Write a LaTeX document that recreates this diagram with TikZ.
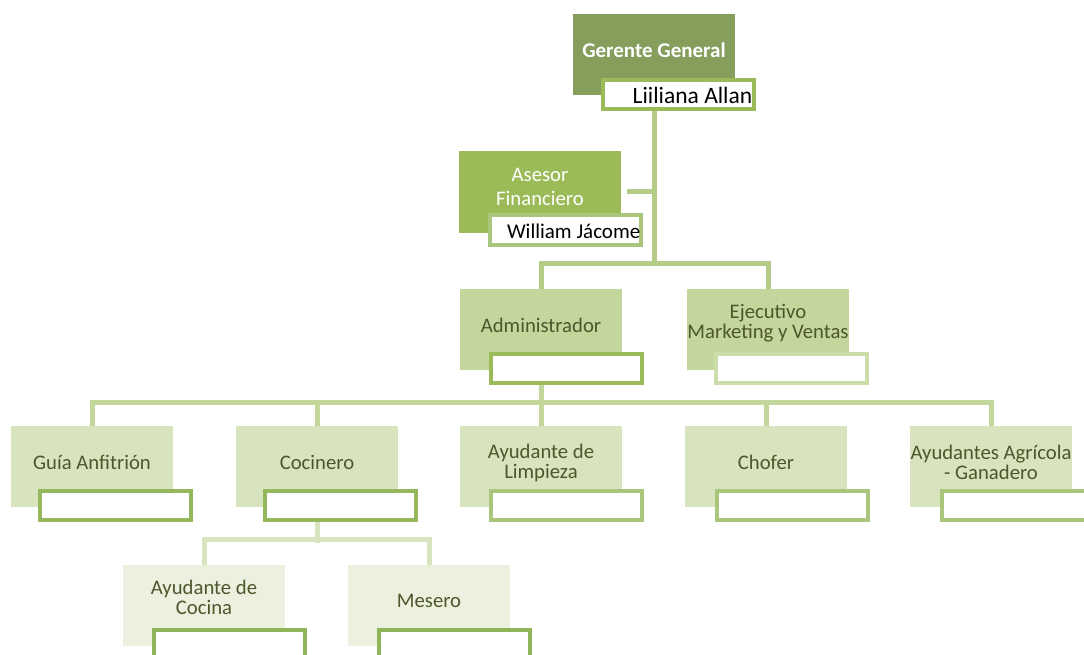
\documentclass[tikz,border=0pt]{standalone}
\usepackage{fontspec}
\setmainfont{Carlito}
\begin{document}
\begin{tikzpicture}[x=1pt,y=-1pt,
  box/.style={minimum width=162pt,minimum height=81pt,inner sep=0pt,draw=none},
  namebox/.style={draw=#1,line width=4pt,fill=white,minimum width=151pt,minimum height=29pt,inner sep=0pt},
  txt/.style={font=\fontsize{20.7}{22}\selectfont,align=center,inner sep=0pt,text=olivetxt},
  nametxt/.style={font=\fontsize{21}{22}\selectfont,inner sep=0pt,text=black,anchor=east},
  conn/.style={draw=#1,line width=5pt,line cap=butt,line join=miter}]
\definecolor{c0}{RGB}{134,158,92}
\definecolor{c1}{RGB}{155,187,89}
\definecolor{c2}{RGB}{195,214,155}
\definecolor{c3}{RGB}{215,228,189}
\definecolor{c4}{RGB}{235,241,222}
\definecolor{olivetxt}{RGB}{78,86,44}
\definecolor{lnA}{RGB}{181,204,135}
\definecolor{lnB}{RGB}{195,214,155}
\definecolor{lnC}{RGB}{215,228,189}
\definecolor{bA}{RGB}{150,184,92}
\definecolor{bB}{RGB}{170,198,124}
\definecolor{bC}{RGB}{204,221,170}
\definecolor{bD}{RGB}{144,180,88}
\useasboundingbox (0,0) rectangle (1084,655);
\clip (0,0) rectangle (1084,655);

% main boxes
\node[box,fill=c0] (gg) at (654,55) {};
\node[box,fill=c1] (as) at (540,192) {};
\node[box,fill=c2] (ad) at (541,329.5) {};
\node[box,fill=c2] (ej) at (768,329.5) {};
\node[box,fill=c3] (gu) at (92,466.5) {};
\node[box,fill=c3] (co) at (317,466.5) {};
\node[box,fill=c3] (li) at (541,466.5) {};
\node[box,fill=c3] (ch) at (766,466.5) {};
\node[box,fill=c3] (ag) at (991,466.5) {};
\node[box,fill=c4] (ac) at (204,605.5) {};
\node[box,fill=c4] (me) at (429,605.5) {};

% name boxes
\node[namebox=c1] (ggn) at (678,94.5) {};
\node[namebox=bB] (asn) at (565,230) {};
\node[namebox=c1] (adn) at (566.5,368) {};
\node[namebox=bC] (ejn) at (791,368) {};
\node[namebox=bA] (gun) at (115.5,505) {};
\node[namebox=bA] (con) at (340.5,505) {};
\node[namebox=bB] (lin) at (566,505) {};
\node[namebox=bB] (chn) at (792,505) {};
\node[namebox=bB] (agn) at (1017.5,505) {};
\node[namebox=bD] (acn) at (229,644.5) {};
\node[namebox=bD] (men) at (454,644.5) {};

% connectors
\path (ad.north) ++(0,-25) coordinate (h1);
\draw[conn=lnA] (ggn.south -| gg.center) -- (h1 -| gg.center);
\draw[conn=lnA] ([xshift=6pt]as.east) -- (as.east -| gg.center);
\draw[conn=lnA] (ad.north) -- (h1) -| (ej.north);
\draw[conn=lnB] (adn.south -| ad.center) -- ++(0,21);
\path (gu.north) ++(0,-23) coordinate (h2);
\draw[conn=lnB] (gu.north) -- (h2) -| (ag.north);
\draw[conn=lnB] (co.north) -- (co.north |- h2);
\draw[conn=lnB] (li.north) -- (li.north |- h2);
\draw[conn=lnB] (ch.north) -- (ch.north |- h2);
\draw[conn=lnC] (con.south -| co.center) -- ++(0,21);
\path (ac.north) ++(0,-25) coordinate (h3);
\draw[conn=lnC] (ac.north) -- (h3) -| (me.north);

% texts
\node[txt,text=white,font=\fontsize{21}{22}\selectfont\bfseries] at ([yshift=5pt]gg.center) {Gerente General};
\node[txt,text=white,font=\fontsize{20.7}{24}\selectfont] at ([yshift=5pt]as.center) {Asesor\\Financiero};
\node[txt] at ([yshift=4.5pt]ad.center) {Administrador};
\node[txt,font=\fontsize{20.7}{20}\selectfont] at ([yshift=6pt]ej.center) {Ejecutivo\\Marketing y Ventas};
\node[txt] at ([yshift=4.5pt]gu.center) {Guía Anfitrión};
\node[txt] at ([yshift=4.5pt]co.center) {Cocinero};
\node[txt,font=\fontsize{20.7}{20}\selectfont] at ([yshift=4pt]li.center) {Ayudante de\\Limpieza};
\node[txt] at ([yshift=4.5pt]ch.center) {Chofer};
\node[txt,font=\fontsize{20.7}{20}\selectfont] at ([yshift=4pt]ag.center) {Ayudantes Agrícola\\- Ganadero};
\node[txt,font=\fontsize{20.7}{20}\selectfont] at ([yshift=8pt]ac.center) {Ayudante de\\Cocina};
\node[txt] at ([yshift=5pt]me.center) {Mesero};

\node[nametxt,font=\fontsize{23.5}{24}\selectfont] at ([xshift=-3pt,yshift=-1pt]ggn.east) {Liiliana Allan};
\node[nametxt] at ([xshift=-2pt,yshift=-1pt]asn.east) {William Jácome};
\end{tikzpicture}
\end{document}
